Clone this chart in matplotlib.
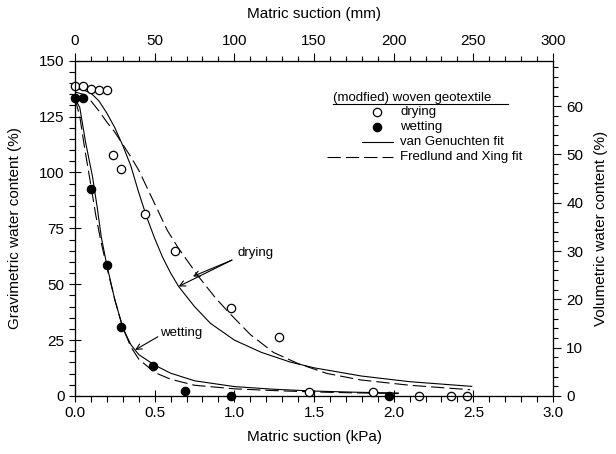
import matplotlib.pyplot as plt
from matplotlib.lines import Line2D
from matplotlib.ticker import MultipleLocator

plt.rcParams["font.family"] = ["Liberation Sans", "DejaVu Sans"]

# measured points (matric suction in kPa, gravimetric water content in %)
drying_x = [0.0, 0.05, 0.10, 0.15, 0.20, 0.24, 0.29, 0.44, 0.63, 0.98, 1.28, 1.47, 1.87, 2.16, 2.36, 2.46]
drying_y = [138.6, 138.6, 137.3, 136.9, 136.9, 107.8, 101.5, 81.4, 65.0, 39.5, 26.4, 1.6, 1.6, 0.2, 0.2, 0.2]

wetting_x = [0.0, 0.05, 0.10, 0.20, 0.29, 0.49, 0.69, 0.98, 1.97]
wetting_y = [133.1, 133.1, 92.4, 58.4, 30.7, 13.6, 2.2, 0.1, 0.0]

# fitted curves
vg_dry_x = [0.0, 0.05, 0.10, 0.15, 0.20, 0.25, 0.30, 0.35, 0.40, 0.45, 0.50, 0.55, 0.60, 0.65,
            0.75, 0.85, 1.0, 1.17, 1.35, 1.5, 1.8, 2.1, 2.49]
vg_dry_y = [137.5, 137.0, 135.5, 132.0, 126.5, 120.0, 112.0, 103.0, 91.0, 80.0, 70.5, 62.0, 55.0, 49.0,
            40.0, 32.5, 25.0, 19.5, 15.2, 12.6, 8.9, 6.4, 4.3]
fx_dry_x = [0.0, 0.05, 0.10, 0.15, 0.20, 0.25, 0.30, 0.35, 0.40, 0.46, 0.52, 0.58, 0.65, 0.78,
            0.88, 0.97, 1.1, 1.245, 1.4, 1.58, 1.79, 2.1, 2.48]
fx_dry_y = [136.0, 135.0, 132.0, 127.5, 122.5, 118.0, 112.5, 107.0, 101.0, 92.0, 83.0, 74.0, 66.0, 53.0,
            44.0, 37.0, 27.5, 19.5, 14.5, 10.1, 7.2, 4.8, 2.8]
vg_wet_x = [0.0, 0.03, 0.065, 0.11, 0.14, 0.165, 0.20, 0.25, 0.30, 0.35, 0.40, 0.50, 0.60, 0.75,
            1.0, 1.25, 1.5, 1.75, 2.03]
vg_wet_y = [133.0, 129.0, 114.0, 98.0, 84.0, 71.0, 58.4, 43.0, 30.5, 23.0, 18.5, 13.8, 10.2, 6.8,
            4.2, 3.0, 2.2, 1.7, 1.3]
fx_wet_x = [0.0, 0.03, 0.06, 0.10, 0.13, 0.16, 0.20, 0.25, 0.30, 0.35, 0.40, 0.50, 0.60, 0.75,
            1.0, 1.25, 1.5, 1.75, 2.03]
fx_wet_y = [133.0, 125.0, 111.0, 94.0, 81.0, 70.0, 57.5, 43.0, 30.5, 22.0, 16.5, 10.5, 7.5, 4.8,
            3.2, 2.4, 1.8, 1.4, 1.1]

DASH = (0, (12, 4.5))
FS = 11

fig = plt.figure(figsize=(6.16, 4.54), dpi=100)
ax = fig.add_axes([0.1218, 0.1278, 0.7759, 0.7385])

ax.plot(vg_dry_x, vg_dry_y, color="black", lw=0.8)
ax.plot(fx_dry_x, fx_dry_y, color="black", lw=0.8, linestyle=DASH)
ax.plot(vg_wet_x, vg_wet_y, color="black", lw=0.8)
ax.plot(fx_wet_x, fx_wet_y, color="black", lw=0.8, linestyle=DASH)

ax.plot(drying_x, drying_y, "o", ms=6, mfc="white", mec="black", mew=0.9, zorder=5, clip_on=False)
ax.plot(wetting_x, wetting_y, "o", ms=6, mfc="black", mec="black", mew=0.9, zorder=5, clip_on=False)

ax.set_xlim(0, 3.0)
ax.set_ylim(0, 150)
ax.xaxis.set_major_locator(MultipleLocator(0.5))
ax.xaxis.set_minor_locator(MultipleLocator(0.1))
ax.yaxis.set_major_locator(MultipleLocator(25))
ax.yaxis.set_minor_locator(MultipleLocator(5))
ax.xaxis.set_major_formatter(lambda v, p: f"{v:.1f}")
ax.tick_params(which="major", direction="inout", length=8, width=0.8, labelsize=FS)
ax.tick_params(which="minor", direction="out", length=4, width=0.8)
ax.set_xlabel("Matric suction (kPa)", fontsize=FS, labelpad=7)
ax.set_ylabel("Gravimetric water content (%)", fontsize=FS, labelpad=12)

ax_top = ax.twiny()
ax_top.set_xlim(0, 300)
ax_top.xaxis.set_major_locator(MultipleLocator(50))
ax_top.xaxis.set_minor_locator(MultipleLocator(10))
ax_top.tick_params(which="major", direction="out", length=6, width=0.8, labelsize=FS)
ax_top.tick_params(which="minor", direction="out", length=3.5, width=0.8)
ax_top.set_xlabel("Matric suction (mm)", fontsize=FS, labelpad=11)

ax_right = ax.twinx()
ax_right.set_ylim(0, 69.4)
ax_right.yaxis.set_major_locator(MultipleLocator(10))
ax_right.yaxis.set_minor_locator(MultipleLocator(2))
ax_right.tick_params(which="major", direction="out", length=6, width=0.8, labelsize=FS)
ax_right.tick_params(which="minor", direction="out", length=3.5, width=0.8)
ax_right.set_ylabel("Volumetric water content (%)", fontsize=FS, labelpad=8)

for a in (ax, ax_top, ax_right):
    for s in a.spines.values():
        s.set_linewidth(0.8)

# annotations
arrow = dict(arrowstyle="->", color="black", lw=0.8, shrinkA=0, shrinkB=0)
ax.annotate("", xy=(0.65, 49.0), xytext=(0.985, 60.8), arrowprops=arrow)
ax.annotate("", xy=(0.74, 53.5), xytext=(0.985, 60.8), arrowprops=arrow)
ax.text(1.02, 64, "drying", fontsize=9.5, va="center", ha="left")
ax.annotate("", xy=(0.377, 20.6), xytext=(0.52, 26.5), arrowprops=arrow)
ax.text(0.535, 28, "wetting", fontsize=9.5, va="center", ha="left")

# legend drawn by hand to match the original layout
T = ax.transAxes
LFS = 9.5
ax.text(0.540, 0.889, "(modfied) woven geotextile", transform=T, fontsize=LFS, va="center", ha="left")
ax.add_line(Line2D([0.540, 0.906], [0.872, 0.872], transform=T, color="black", lw=0.8))
ax.add_line(Line2D([0.632], [0.847], transform=T, marker="o", ms=6, mfc="white", mec="black", mew=0.9))
ax.text(0.680, 0.847, "drying", transform=T, fontsize=LFS, va="center", ha="left")
ax.add_line(Line2D([0.632], [0.802], transform=T, marker="o", ms=6, mfc="black", mec="black", mew=0.9))
ax.text(0.680, 0.802, "wetting", transform=T, fontsize=LFS, va="center", ha="left")
ax.add_line(Line2D([0.600, 0.665], [0.758, 0.758], transform=T, color="black", lw=0.8))
ax.text(0.680, 0.758, "van Genuchten fit", transform=T, fontsize=LFS, va="center", ha="left")
ax.add_line(Line2D([0.527, 0.665], [0.713, 0.713], transform=T, color="black", lw=0.8, linestyle=DASH))
ax.text(0.680, 0.713, "Fredlund and Xing fit", transform=T, fontsize=LFS, va="center", ha="left")

fig.savefig("out.png", dpi=100)
